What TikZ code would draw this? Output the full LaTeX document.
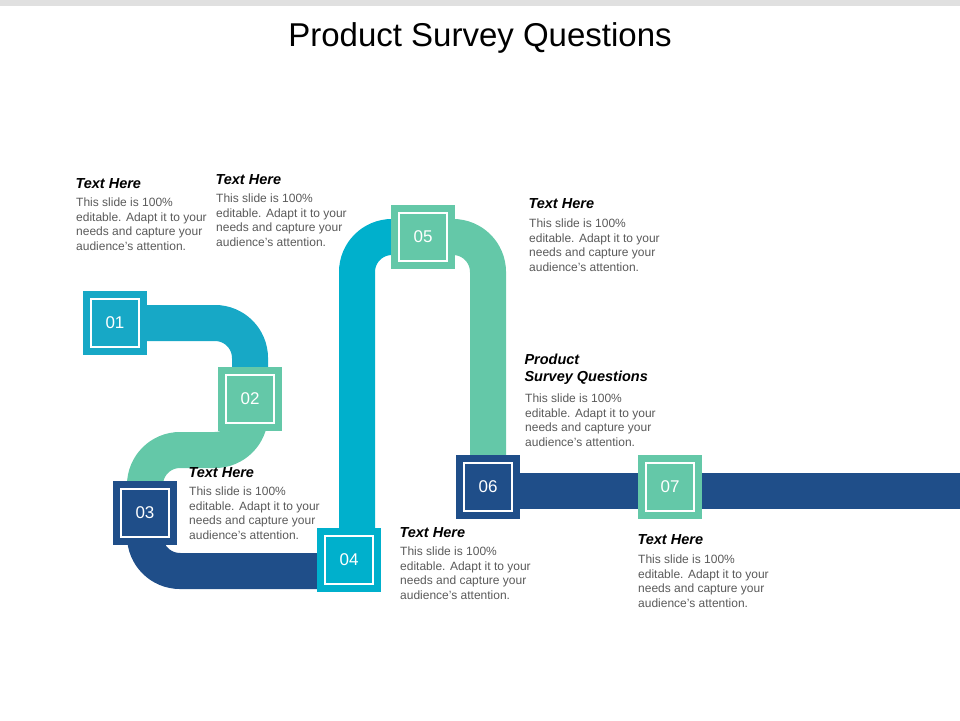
\documentclass[tikz,border=0pt]{standalone}
\usepackage{fontspec}
\setmainfont{Liberation Sans}
\usetikzlibrary{positioning, backgrounds, calc}
\definecolor{pipeblue}{RGB}{23,168,198}
\definecolor{pipecyan}{RGB}{0,176,204}
\definecolor{pipegreen}{RGB}{100,200,168}
\definecolor{pipedark}{RGB}{31,78,137}
\definecolor{bodygray}{RGB}{90,90,90}
\begin{document}
\begin{tikzpicture}[x=1pt, y=-1pt, font=\fontsize{12}{14.5}\selectfont]%
            \tikzstyle{stepbox} = [ rectangle, minimum size = 64pt, inner sep = 0pt, text = white, font = \fontsize{17}{17}\selectfont,
                path picture = {\draw[white, line width = 1.8pt] ($(path picture bounding box.center)+(-24,-24)$) rectangle +(48,48);}]
            \tikzstyle{pipe} = [ line width = 36pt, rounded corners = 35pt]
            \tikzstyle{head} = [ anchor = north west, align = left, font = \fontsize{14.5}{17}\selectfont\bfseries\itshape]
            \tikzstyle{body} = [ anchor = north west, align = left, text = bodygray, inner sep = 0pt]
        %%
            \fill[black!12] (0,0) rectangle (960,6);
            \useasboundingbox (0,0) rectangle (960,720);
            \node (title) at (480,38) {\fontsize{33}{33}\selectfont Product Survey Questions};
            %% Steps
            \node [stepbox, fill = pipeblue] (b01) at (115,323) {01};
            \node [stepbox, fill = pipegreen] (b02) at (250,399) {02};
            \node [stepbox, fill = pipedark] (b03) at (145,513) {03};
            \node [stepbox, fill = pipecyan] (b04) at (349,560) {04};
            \node [stepbox, fill = pipegreen] (b05) at (423,237) {05};
            \node [stepbox, fill = pipedark] (b06) at (488,487) {06};
            \node [stepbox, fill = pipegreen] (b07) at (670,487) {07};
            \coordinate (pend) at (960,491);
            %% Pipes
            \begin{scope}[on background layer]
                \draw[pipe, pipeblue] (b01.center) -| (b02.center);
                \draw[pipe, pipegreen] (b02.center) -- ($(b02.center)+(0,51)$) -| (b03.center);
                \draw[pipe, pipedark] (b03.center) |- ($(b04.center)+(0,11)$);
                \draw[pipe, pipecyan] ($(b04.center)+(8,0)$) |- (b05.center);
                \draw[pipe, pipegreen] (b05.center) -| (b06.center);
                \draw[pipe, pipedark] ($(b06.center)+(0,4)$) -- (pend);
            \end{scope}
            %% Texts
            \node [head] (h1) at (72,175) {Text Here};
            \node [body] (t1) at (76,198) {This slide is 100\%\\editable. Adapt it to your\\needs and capture your\\audience's attention.};
            \node [head] (h2) at (212,171) {Text Here};
            \node [body] (t2) at (216,194) {This slide is 100\%\\editable. Adapt it to your\\needs and capture your\\audience's attention.};
            \node [head] (h3) at (525,195) {Text Here};
            \node [body] (t3) at (529,219) {This slide is 100\%\\editable. Adapt it to your\\needs and capture your\\audience's attention.};
            \node [head] (h4) at (521,350) {Product\\Survey Questions};
            \node [body] (t4) at (525,394) {This slide is 100\%\\editable. Adapt it to your\\needs and capture your\\audience's attention.};
            \node [head] (h5) at (185,464) {Text Here};
            \node [body] (t5) at (189,487) {This slide is 100\%\\editable. Adapt it to your\\needs and capture your\\audience's attention.};
            \node [head] (h6) at (396,524) {Text Here};
            \node [body] (t6) at (400,547) {This slide is 100\%\\editable. Adapt it to your\\needs and capture your\\audience's attention.};
            \node [head] (h7) at (634,531) {Text Here};
            \node [body] (t7) at (638,555) {This slide is 100\%\\editable. Adapt it to your\\needs and capture your\\audience's attention.};
        \end{tikzpicture}
\end{document}
